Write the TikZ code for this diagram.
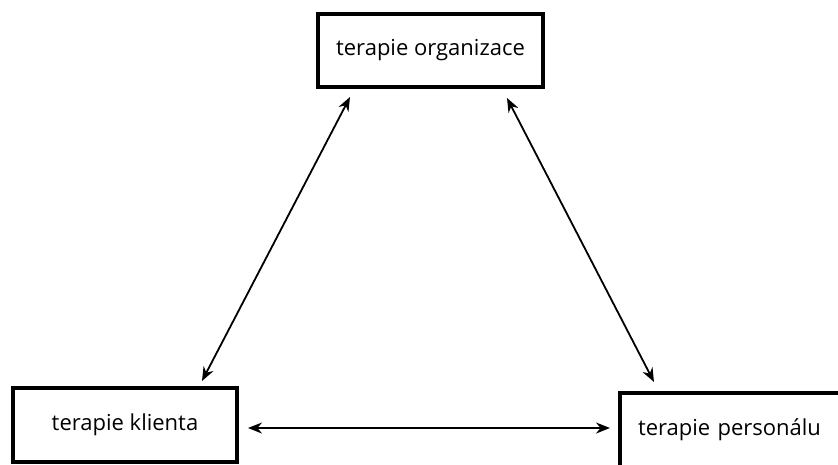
\documentclass[tikz,border=0pt]{standalone}
\usepackage{fontspec}
\setmainfont{Open Sans}
\usetikzlibrary{arrows.meta}
\begin{document}
\begin{tikzpicture}[x=1pt,y=-1pt,
  box/.style={draw=black, line width=3.2pt, fill=white, inner sep=0pt, font=\fontsize{22}{26}\selectfont},
  link/.style={line width=1.8pt, {Stealth[length=14pt,width=11pt]}-{Stealth[length=14pt,width=11pt]}}]
\useasboundingbox (0,0) rectangle (838,464);
\node[box, minimum width=225pt, minimum height=73pt] (org) at (430.5,50.5) {terapie organizace};
\node[box, minimum width=224pt, minimum height=74pt] (kli) at (125,425) {terapie klienta};
\node[box, minimum width=226pt, minimum height=74pt, text width=190pt, align=left] (per) at (733,430) {terapie personálu};
\coordinate (a1) at (350,97);
\coordinate (a2) at (202,381);
\coordinate (b1) at (507,98);
\coordinate (b2) at (654,382);
\coordinate (c1) at (248,428);
\coordinate (c2) at (610,428);
\draw[link] (a1) -- (a2);
\draw[link] (b1) -- (b2);
\draw[link] (c1) -- (c2);
\end{tikzpicture}
\end{document}
